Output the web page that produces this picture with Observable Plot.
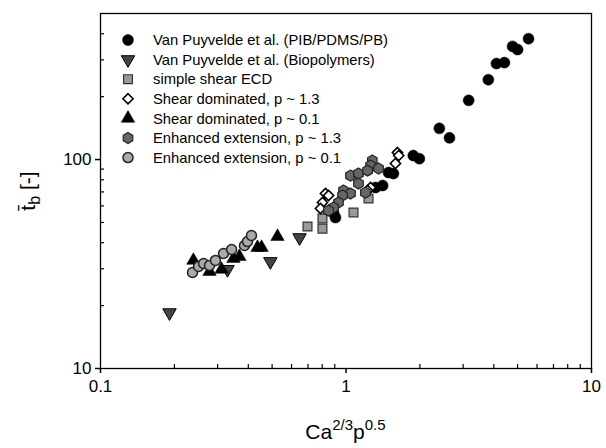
<!DOCTYPE html>
<html><head><meta charset="utf-8">
<script src="https://cdn.jsdelivr.net/npm/d3@7"></script>
<script src="https://cdn.jsdelivr.net/npm/@observablehq/plot@0.6"></script>
<style>body{margin:0;background:#fff;font-family:"Liberation Sans",Arial,sans-serif}</style>
</head><body><div id="chart"></div>
<script>
// Series values
const vpPIB_x = [5.54,4.77,5.0,4.42,4.10,3.80,3.16,2.40,2.64,1.88,1.99,1.49,1.56,1.41,1.32,0.906,0.889];
const vpPIB_y = [379,348,336,291,288,241,192,141,127,104.5,101,86.7,85.7,75.1,73.5,52.8,55.8];
const vpBio_x = [0.191,0.329,0.492,0.647];
const vpBio_y = [18.5,29.8,32.5,42.3];
const ecd_x = [0.697,0.802,0.802,1.073,1.235];
const ecd_y = [47.8,52.2,46.7,55.8,65.1];
const shear13_x = [0.825,0.849,0.802,0.787,1.259,1.224,1.62,1.64,1.59];
const shear13_y = [68.8,67.3,62.3,58.3,73.5,71.1,108,104.5,95.7];
const shear01_x = [0.239,0.278,0.311,0.348,0.368,0.436,0.453,0.526];
const shear01_y = [32.9,29.1,29.8,33.6,34.3,37.9,37.9,42.8];
const ext13_x = [1.043,1.124,1.124,0.977,1.043,0.968,0.932,0.889,0.849,1.2,1.28,1.259,1.357,1.224];
const ext13_y = [83.8,85.7,76.8,71.1,68.8,67.3,62.3,58.9,57.0,69.5,98.9,93.6,90.6,88.5];
const ext01_x = [0.237,0.251,0.263,0.278,0.294,0.317,0.342,0.386,0.397,0.412];
const ext01_y = [28.8,30.8,31.8,31.1,32.9,35.5,37.1,38.8,40.5,43.3];

const seriesNames = [
  "Van Puyvelde et al. (PIB/PDMS/PB)",
  "Van Puyvelde et al. (Biopolymers)",
  "simple shear ECD",
  "Shear dominated, p ~ 1.3",
  "Shear dominated, p ~ 0.1",
  "Enhanced extension, p ~ 1.3",
  "Enhanced extension, p ~ 0.1"
];
const xMajor = [0.1, 1, 10];
const xMinor = [0.2,0.3,0.4,0.5,0.6,0.7,0.8,0.9,2,3,4,5,6,7,8,9];
const yMajor = [10, 100];
const yMinor = [20,30,40,50,60,70,80,90,200,300,400];

// custom symbols
const sqrt3 = Math.sqrt(3);
const triangleDown = {draw(ctx, size){
  const y = -Math.sqrt(size / (sqrt3 * 3));
  ctx.moveTo(0, -y * 2); ctx.lineTo(-sqrt3 * y, y); ctx.lineTo(sqrt3 * y, y); ctx.closePath();
}};
const hexagon = {draw(ctx, size){
  const s = Math.sqrt(2 * size / (3 * sqrt3));
  for (let k = 0; k < 6; k++) {
    const a = (-90 + 60 * k) * Math.PI / 180;
    if (k === 0) ctx.moveTo(s * Math.cos(a), s * Math.sin(a)); else ctx.lineTo(s * Math.cos(a), s * Math.sin(a));
  }
  ctx.closePath();
}};

const styles = [
  {symbol: "circle", r: 5.5, fill: "#000", stroke: "#000", sw: 0.5},
  {symbol: triangleDown, r: 5, fill: "#444", stroke: "#000", sw: 1},
  {symbol: "square", r: 5, fill: "#999", stroke: "#333", sw: 1.2},
  {symbol: "diamond2", r: 4.6, fill: "#fff", stroke: "#000", sw: 1.6},
  {symbol: "triangle", r: 5, fill: "#000", stroke: "#000", sw: 0.5},
  {symbol: hexagon, r: 5, fill: "#666", stroke: "#222", sw: 1.2},
  {symbol: "circle", r: 5, fill: "#aaa", stroke: "#222", sw: 1.5}
];
const xs = [vpPIB_x, vpBio_x, ecd_x, shear13_x, shear01_x, ext13_x, ext01_x];
const ys = [vpPIB_y, vpBio_y, ecd_y, shear13_y, shear01_y, ext13_y, ext01_y];

const dotMarks = xs.map((xa, i) => {
  const data = xa.map((x, j) => ({x, y: ys[i][j], s: seriesNames[i]}));
  const st = styles[i];
  return Plot.dot(data, {x: "x", y: "y", r: st.r, symbol: () => st.symbol, fill: st.fill, stroke: st.stroke, strokeWidth: st.sw});
});

const W = 606, H = 448, ML = 100, MR = 15, MT = 13, MB = 80;
const chart = Plot.plot({
  width: W, height: H,
  marginLeft: ML, marginRight: MR, marginTop: MT, marginBottom: MB,
  style: {fontFamily: '"Liberation Sans", Arial, sans-serif', background: "#fff", color: "#000"},
  x: {type: "log", domain: [0.1, 10]},
  y: {type: "log", domain: [10, 500]},
  marks: [
    Plot.axisX(xMajor, {tickSize: 5, tickPadding: 6, fontSize: 17, tickFormat: d => String(d), label: null, strokeWidth: 1.5}),
    Plot.axisX(xMinor, {tickSize: 4, dy: -4, tickFormat: () => "", label: null, strokeWidth: 1.2}),
    Plot.axisY(yMajor, {tickSize: 5, tickPadding: 4, fontSize: 17, tickFormat: d => String(d), label: null, strokeWidth: 1.5}),
    Plot.axisY(yMinor, {tickSize: 4, dx: 4, tickFormat: () => "", label: null, strokeWidth: 1.2}),
    Plot.frame({stroke: "#000", strokeWidth: 1.3}),
    ...dotMarks
  ]
});
document.getElementById("chart").appendChild(chart);

const svg = d3.select(chart);
// x axis title with superscripts
const xt = svg.append("text").attr("x", ML + (W - ML - MR) / 2).attr("y", 439)
  .attr("text-anchor", "middle").attr("font-size", 21).attr("fill", "#000");
xt.append("tspan").text("Ca");
xt.append("tspan").attr("font-size", 15).attr("dy", -9).text("2/3");
xt.append("tspan").attr("dy", 9).text("p");
xt.append("tspan").attr("font-size", 15).attr("dy", -9).text("0.5");
// y axis title
const yt = svg.append("text").attr("transform", "translate(35,191) rotate(-90)")
  .attr("text-anchor", "middle").attr("font-size", 21).attr("fill", "#000");
yt.append("tspan").text("t\u0304");
yt.append("tspan").attr("font-size", 16).attr("dy", 5).text("b");
yt.append("tspan").attr("dy", -5).text(" [-]");

// legend inside the plot area
const lg = svg.append("g").attr("transform", "translate(128,40)").attr("text-anchor", "start");
seriesNames.forEach((name, i) => {
  const st = styles[i];
  const row = lg.append("g").attr("transform", `translate(0,${i * 19.6})`);
  const symType = typeof st.symbol === "string"
    ? {circle: d3.symbolCircle, square: d3.symbolSquare, diamond2: d3.symbolDiamond2, triangle: d3.symbolTriangle}[st.symbol]
    : st.symbol;
  row.append("path").attr("d", d3.symbol(symType, Math.PI * st.r * st.r)())
    .attr("fill", st.fill).attr("stroke", st.stroke).attr("stroke-width", st.sw);
  row.append("text").attr("x", 25).attr("dy", "0.35em").attr("font-size", 14.8)
    .attr("text-anchor", "start").attr("fill", "#000").text(name);
});
</script></body></html>
